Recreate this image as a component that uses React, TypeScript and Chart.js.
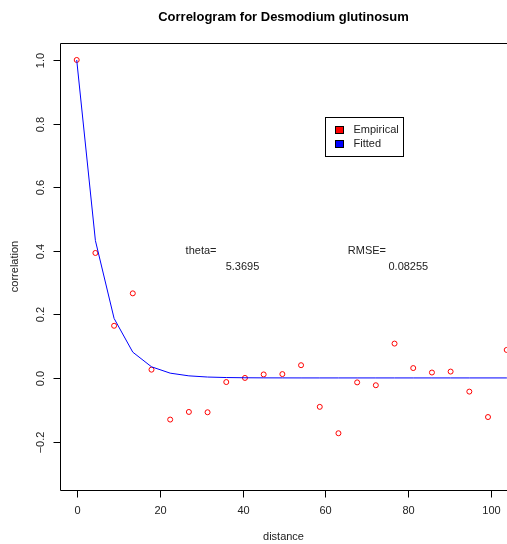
import React, { useEffect, useRef } from "react";
import { Chart, registerables } from "chart.js";

Chart.register(...registerables);

const distances = [0, 4.51, 9.02, 13.53, 18.04, 22.55, 27.06, 31.57, 36.08, 40.59, 45.1, 49.61, 54.12, 58.63, 63.14, 67.65, 72.16, 76.67, 81.18, 85.69, 90.2, 94.71, 99.22, 103.73];
const empirical = [1.0, 0.393, 0.164, 0.266, 0.026, -0.131, -0.107, -0.108, -0.013, 0.0, 0.011, 0.012, 0.04, -0.091, -0.174, -0.014, -0.023, 0.108, 0.031, 0.017, 0.02, -0.043, -0.123, 0.088];
const fittedDist = [0, 4.51, 9.02, 13.53, 18.04, 22.55, 27.06, 31.57, 36.08, 40.59, 45.1, 49.61, 54.12, 58.63, 63.14, 67.65, 72.16, 76.67, 81.18, 85.69, 90.2, 94.71, 99.22, 103.73, 108.24];
const fitted = [1.0, 0.432, 0.187, 0.081, 0.035, 0.015, 0.0065, 0.0028, 0.0012, 0.0005, 0.0002, 0.0001, 0, 0, 0, 0, 0, 0, 0, 0, 0, 0, 0, 0, 0];
const xTicks = [0, 20, 40, 60, 80, 100];
const yTicks = [-0.2, 0.0, 0.2, 0.4, 0.6, 0.8, 1.0];
const yTickLabels = ["\u22120.2", "0.0", "0.2", "0.4", "0.6", "0.8", "1.0"];
const annotations = [
  { x: 30, y: 0.4, text: "theta=" },
  { x: 40, y: 0.35, text: "5.3695" },
  { x: 70, y: 0.4, text: "RMSE=" },
  { x: 80, y: 0.35, text: "0.08255" },
];
const titleText = "Correlogram for Desmodium glutinosum";
const xLabel = "distance";
const yLabel = "correlation";

const FONT = '"Liberation Sans", Arial, Helvetica, sans-serif';

const rPlot = {
  id: "rPlot",
  afterDraw(chart: any) {
    const ctx = chart.ctx;
    const ca = chart.chartArea;
    const xs = chart.scales.x;
    const ys = chart.scales.y;
    ctx.save();
    ctx.strokeStyle = "#000";
    ctx.lineWidth = 1;
    const L = Math.round(ca.left) + 0.5;
    const T = Math.round(ca.top) + 0.5;
    const B = Math.round(ca.bottom) + 0.5;
    ctx.beginPath();
    ctx.moveTo(chart.width + 2, T);
    ctx.lineTo(L, T);
    ctx.lineTo(L, B);
    ctx.lineTo(chart.width + 2, B);
    ctx.stroke();

    ctx.fillStyle = "#222";
    ctx.font = "11px " + FONT;
    ctx.textAlign = "center";
    ctx.textBaseline = "middle";
    xTicks.forEach((v) => {
      const px = Math.round(xs.getPixelForValue(v)) + 0.5;
      ctx.beginPath();
      ctx.moveTo(px, B);
      ctx.lineTo(px, B + 7);
      ctx.stroke();
      ctx.fillText(String(v), px, 511);
    });
    yTicks.forEach((v, i) => {
      const py = Math.round(ys.getPixelForValue(v)) + 0.5;
      ctx.beginPath();
      ctx.moveTo(L, py);
      ctx.lineTo(L - 7, py);
      ctx.stroke();
      ctx.save();
      ctx.translate(41, py);
      ctx.rotate(-Math.PI / 2);
      ctx.fillText(yTickLabels[i], 0, 0);
      ctx.restore();
    });
    ctx.fillText(xLabel, (ca.left + chart.width) / 2, 537);
    ctx.save();
    ctx.translate(15, (ca.top + ca.bottom) / 2);
    ctx.rotate(-Math.PI / 2);
    ctx.fillText(yLabel, 0, 0);
    ctx.restore();

    ctx.font = "bold 13px " + FONT;
    ctx.fillStyle = "#000";
    ctx.fillText(titleText, (ca.left + chart.width) / 2, 17);

    ctx.font = "11px " + FONT;
    ctx.fillStyle = "#222";
    annotations.forEach((a) => {
      ctx.fillText(a.text, xs.getPixelForValue(a.x), ys.getPixelForValue(a.y));
    });

    const lx = 325.5, ly = 117.5, lw = 78, lh = 39;
    ctx.fillStyle = "#fff";
    ctx.fillRect(lx, ly, lw, lh);
    ctx.strokeStyle = "#000";
    ctx.strokeRect(lx, ly, lw, lh);
    const items = [
      { label: chart.data.datasets[1].label, color: "#ff0000", y: 130 },
      { label: chart.data.datasets[0].label, color: "#0000ff", y: 144 },
    ];
    ctx.textAlign = "left";
    items.forEach((it) => {
      ctx.fillStyle = it.color;
      ctx.fillRect(335.5, it.y - 3.5, 8, 7);
      ctx.strokeStyle = "#000";
      ctx.strokeRect(335.5, it.y - 3.5, 8, 7);
      ctx.fillStyle = "#222";
      ctx.fillText(it.label, 353.5, it.y);
    });
    ctx.restore();
  },
};

export default function App() {
  const ref = useRef<HTMLCanvasElement | null>(null);
  useEffect(() => {
    document.body.style.margin = "0";
    document.body.style.overflow = "hidden";
    const chart = new Chart(ref.current as HTMLCanvasElement, {
      type: "scatter",
      data: {
        datasets: [
          {
            label: "Fitted",
            data: fittedDist.map((d, i) => ({ x: d, y: fitted[i] })),
            showLine: true,
            borderColor: "#0000ff",
            borderWidth: 1,
            pointRadius: 0,
            fill: false,
            tension: 0,
          },
          {
            label: "Empirical",
            data: distances.map((d, i) => ({ x: d, y: empirical[i] })),
            showLine: false,
            borderColor: "#ff0000",
            backgroundColor: "rgba(0,0,0,0)",
            borderWidth: 1,
            pointRadius: 2.5,
            pointStyle: "circle",
          },
        ],
      },
      options: {
        animation: false,
        responsive: false,
        maintainAspectRatio: false,
        devicePixelRatio: 1,
        layout: { autoPadding: false, padding: { left: 60, top: 43, right: 0, bottom: 54 } },
        scales: {
          x: { type: "linear", min: -4.03, max: 103.8, display: false },
          y: { type: "linear", min: -0.3525, max: 1.0534, display: false },
        },
        plugins: {
          legend: { display: false },
          title: { display: false },
          tooltip: { enabled: false },
        },
      },
      plugins: [rPlot],
    });
    return () => chart.destroy();
  }, []);
  return (
    <div style={{ position: "fixed", left: 0, top: 0, width: 507, height: 544, background: "#fff" }}>
      <canvas ref={ref} width={507} height={544} style={{ width: 507, height: 544, display: "block" }} />
    </div>
  );
}
